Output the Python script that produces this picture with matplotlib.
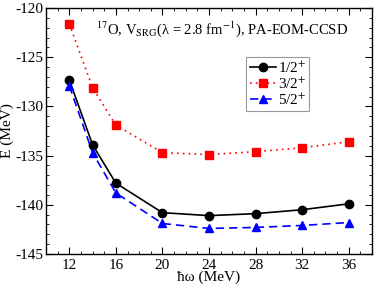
import matplotlib
matplotlib.use("Agg")
import matplotlib.pyplot as plt
from matplotlib.ticker import MultipleLocator

plt.rcParams['font.family'] = ['Liberation Serif', 'DejaVu Serif']
plt.rcParams['mathtext.fontset'] = 'stix'
plt.rcParams['axes.unicode_minus'] = False

# hbar*omega values (MeV)
hw = [12, 14, 16, 20, 24, 28, 32, 36]

# energies (MeV) for each state
e_half = [-127.3, -133.9, -137.8, -140.8, -141.1, -140.9, -140.5, -139.9]
e_three_half = [-121.6, -128.1, -131.9, -134.7, -134.9, -134.6, -134.2, -133.6]
e_five_half = [-127.9, -134.7, -138.8, -141.9, -142.4, -142.3, -142.1, -141.8]

fig = plt.figure(figsize=(3.74, 2.84), dpi=100)
ax = fig.add_axes([46 / 374, 30 / 284, 326 / 374, 246 / 284])

ax.plot(hw, e_half, color='black', linestyle='-', linewidth=1.2, marker='o',
        markersize=6, label='1/2$^{+}$')
ax.plot(hw, e_three_half, color='red', linestyle=(0, (1, 2.5)), linewidth=1.2,
        marker='s', markersize=5.5, label='3/2$^{+}$')
ax.plot(hw, e_five_half, color='blue', linestyle=(0, (5, 3)), linewidth=1.2,
        marker='^', markersize=6, label='5/2$^{+}$')

ax.set_xlim(10, 38)
ax.set_ylim(-145, -120)
ax.xaxis.set_major_locator(MultipleLocator(4))
ax.xaxis.set_minor_locator(MultipleLocator(1))
ax.yaxis.set_major_locator(MultipleLocator(5))
ax.yaxis.set_minor_locator(MultipleLocator(1))
ax.set_xticks([12, 16, 20, 24, 28, 32, 36])
ax.tick_params(which='both', direction='in', top=True, right=True, labelsize=11)
ax.tick_params(which='major', length=5)
ax.tick_params(which='minor', length=2.5)
ax.tick_params(axis='y', pad=2)
for s in ax.spines.values():
    s.set_linewidth(1.0)

ax.set_xlabel('\u0127\u03c9 (MeV)', fontsize=11, labelpad=-1)
ax.set_ylabel('E (MeV)', fontsize=11, labelpad=1)

ax.text(0.54, 0.955, '$^{17}$O, V$_{\\mathrm{SRG}}$(\u03bb = 2.8 fm$^{-1}$), PA-EOM-CCSD',
        transform=ax.transAxes, ha='center', va='top', fontsize=10.5)

leg = ax.legend(loc='upper left', bbox_to_anchor=(0.615, 0.8), fontsize=11,
                frameon=True, fancybox=False, edgecolor='gray', handlelength=1.75,
                handletextpad=0.1, borderpad=0.2, labelspacing=0.05,
                borderaxespad=0)
leg.get_frame().set_linewidth(0.8)

fig.savefig('out.png', dpi=100)
